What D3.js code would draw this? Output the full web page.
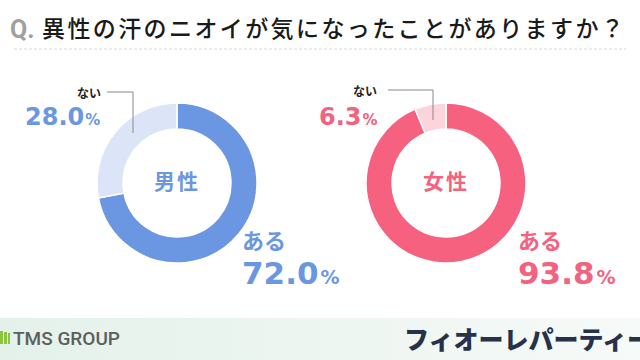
<!DOCTYPE html>
<html><head><meta charset="utf-8">
<script src="https://cdn.jsdelivr.net/npm/d3@7"></script>
<style>
html,body{margin:0;padding:0;background:#fff;}
svg{display:block;}
</style></head>
<body>
<svg id="c" width="640" height="360"></svg>
<script>
const title = "異性の汗のニオイが気になったことがありますか？";
const groups = ["男性", "女性"];
const answers = ["ある", "ない"];
const maleValues = [72.0, 28.0];
const femaleValues = [93.8, 6.3];
const footerLeft = "TMS GROUP";
const footerRight = "フィオーレパーティー";

const svg = d3.select("#c");
const JP = "'Noto Sans CJK JP','Noto Sans',sans-serif";
const NUM = "'DejaVu Sans',sans-serif";

// footer band
const defs = svg.append("defs");
const g1 = defs.append("linearGradient").attr("id","fg").attr("x1","0").attr("x2","1").attr("y1","0").attr("y2","0");
g1.append("stop").attr("offset","0").attr("stop-color","#e4f1ea");
g1.append("stop").attr("offset","1").attr("stop-color","#f6faf8");
svg.append("rect").attr("x",0).attr("y",318).attr("width",640).attr("height",42).attr("fill","url(#fg)");

// title
svg.append("text").attr("x",10).attr("y",38).attr("font-family","Roboto,sans-serif").attr("font-weight",700)
  .attr("font-size",25).attr("fill","#a0a0a0").text("Q.");
svg.append("text").attr("x",42).attr("y",37).attr("font-family",JP).attr("font-weight",500)
  .attr("font-size",23).attr("letter-spacing",2.4).attr("fill","#1a1a1a").text(title);
svg.append("line").attr("x1",14).attr("x2",626).attr("y1",49).attr("y2",49)
  .attr("stroke","#d8d8d8").attr("stroke-width",1).attr("stroke-dasharray","3,2");

const charts = [
  {name: groups[0], values: maleValues, cx: 177, cy: 183, colors: ["#6b97e2","#dce4f7"], text: "#6b97e2",
   nai: {x: 101, y: 98, lx1: 107, ly: 92, lx2: 133, ly2: 133, px: 25, py: 125},
   aru: {x: 242, y: 249, px: 242, py: 284}},
  {name: groups[1], values: femaleValues, cx: 446, cy: 183, colors: ["#f5617f","#fbd4dc"], text: "#f3627f",
   nai: {x: 377, y: 96, lx1: 388, ly: 90, lx2: 433, ly2: 120, px: 319, py: 125},
   aru: {x: 518, y: 249, px: 518, py: 284}}
];

const pie = d3.pie().sort(null).value(d => d);
const arc = d3.arc().innerRadius(54).outerRadius(80);

charts.forEach(c => {
  const g = svg.append("g").attr("transform", `translate(${c.cx},${c.cy})`);
  g.selectAll("path").data(pie(c.values)).join("path")
    .attr("d", arc).attr("fill", (d,i) => c.colors[i])
    .attr("stroke","#fff").attr("stroke-width",1.5);
  g.append("text").attr("text-anchor","middle").attr("y",-1).attr("dy","0.35em")
    .attr("font-family",JP).attr("font-weight",700).attr("font-size",21).attr("letter-spacing",2)
    .attr("fill",c.text).text(c.name);

  // nai label
  svg.append("text").attr("x",c.nai.x).attr("y",c.nai.y).attr("text-anchor","end")
    .attr("font-family",JP).attr("font-weight",700).attr("font-size",12).attr("fill","#222").text(answers[1]);
  svg.append("path").attr("d",`M${c.nai.lx1},${c.nai.ly}H${c.nai.lx2}V${c.nai.ly2}`)
    .attr("fill","none").attr("stroke","#888").attr("stroke-width",1);
  const t1 = svg.append("text").attr("x",c.nai.px).attr("y",c.nai.py)
    .attr("font-family",NUM).attr("font-weight",700).attr("fill",c.text);
  t1.append("tspan").attr("font-size",24).text(c.values[1].toFixed(1));
  t1.append("tspan").attr("font-size",15).attr("dx",1).text("%");

  // aru label
  svg.append("text").attr("x",c.aru.x).attr("y",c.aru.y)
    .attr("font-family",JP).attr("font-weight",700).attr("font-size",22).attr("fill",c.text).text(answers[0]);
  const t2 = svg.append("text").attr("x",c.aru.px).attr("y",c.aru.py)
    .attr("font-family",NUM).attr("font-weight",700).attr("fill",c.text);
  t2.append("tspan").attr("font-size",31).text(c.values[0].toFixed(1));
  t2.append("tspan").attr("font-size",19).attr("dx",2).text("%");
});

// footer
svg.append("path").attr("d","M0,331 h3 v13 h-3z M4,332 h3 v12 h-3z M8,333 h2 v11 h-2z").attr("fill","#8cc63f");
svg.append("text").attr("x",13).attr("y",345).attr("font-family","Roboto,sans-serif").attr("font-weight",500)
  .attr("font-size",19).attr("fill","#5a605d").text(footerLeft);
svg.append("text").attr("x",404).attr("y",349).attr("font-family",JP).attr("font-weight",900)
  .attr("font-size",25).attr("fill","#27314a").text(footerRight);
</script>
</body></html>
